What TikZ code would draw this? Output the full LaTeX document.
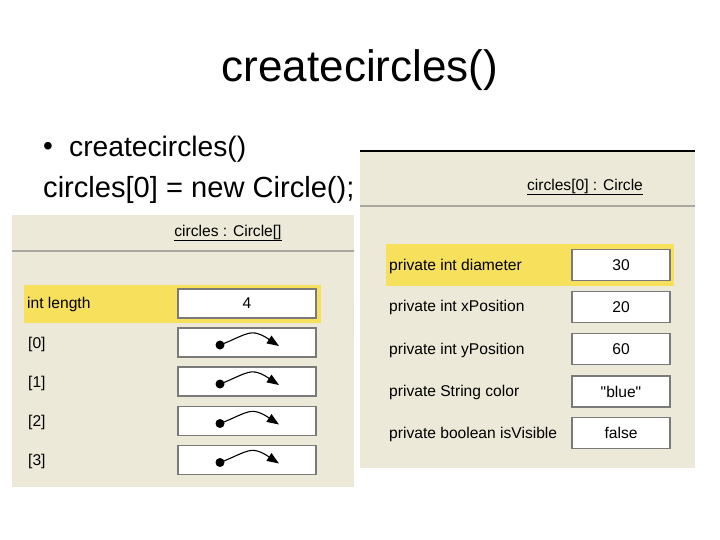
\documentclass[tikz,border=0pt]{standalone}
\usepackage{fontspec}
\setmainfont{Liberation Sans}[Ligatures=TeXOff]
\usetikzlibrary{arrows.meta}
\definecolor{panelbg}{HTML}{ECE9D8}
\definecolor{hilite}{HTML}{F6E05C}
\definecolor{boxline}{HTML}{7A7A7A}
\definecolor{sepline}{HTML}{A8A8A0}
\tikzset{
  panelfill/.style={fill=panelbg, draw=none},
  hirow/.style={fill=hilite, draw=none},
  smalltext/.style={font=\fontsize{15.6}{15.6}\selectfont, inner sep=0pt},
  lbl/.style={smalltext, anchor=west},
  valbox/.style={draw=boxline, line width=1.3pt, fill=white, inner sep=0pt, font=\fontsize{15.6}{15.6}\selectfont},
  lbox/.style={valbox, minimum width=138pt, minimum height=29pt},
  rbox/.style={valbox, minimum width=98pt, minimum height=31pt},
  refglyph/.pic={
    \fill (-27,2.5) circle [radius=4.5pt];
    \draw[line width=1.1pt, -{Triangle[length=12pt,width=9pt]}]
      (-27,2.5) .. controls (-12,-3) and (0,-11) .. (8,-9.5)
      .. controls (16,-8) and (22,-3) .. (32,3.5);
  }
}
\begin{document}
\begin{tikzpicture}[x=1pt,y=-1pt]
\useasboundingbox (0,0) rectangle (720,540);
% heading texts
\node[inner sep=0pt, font=\fontsize{44}{44}\selectfont] (title) at (360,70) {createcircles()};
\node[inner sep=0pt, font=\fontsize{28}{28}\selectfont] (bullet) at (48,149) {•};
\node[inner sep=0pt, anchor=west, font=\fontsize{28.2}{28.2}\selectfont] (bl1) at (69,149) {createcircles()};
\node[inner sep=0pt, anchor=west, font=\fontsize{29.1}{29.1}\selectfont] (bl2) at (43,190) {circles[0] = new Circle();};

% left panel
\fill[panelfill] (12,215) rectangle (354,487);
\draw[sepline, line width=2pt] (12,251) -- (354,251);
\draw[white!80!gray, line width=1pt] (353,298) -- (353,343);
\node[smalltext] (ltitle) at (228,233) {\underline{circles : Circle[]}};
\fill[hirow] (24,285) rectangle (321,323);
\node[lbl] (llen) at (27,304) {int length};
\node[lbox] (vlen) at (247,303.5) {4};
\node[lbl] (l0) at (28,344) {[0]};
\node[lbox] (v0) at (247,342.5) {};
\node[lbl] (l1) at (28,383) {[1]};
\node[lbox] (v1) at (247,381.5) {};
\node[lbl] (l2) at (28,422) {[2]};
\node[lbox] (v2) at (247,421) {};
\node[lbl] (l3) at (28,461) {[3]};
\node[lbox] (v3) at (247,460) {};
\pic at (v0.center) {refglyph};
\pic at (v1.center) {refglyph};
\pic at (v2.center) {refglyph};
\pic at (v3.center) {refglyph};

% right panel
\fill[panelfill] (360,151) rectangle (695,468);
\draw[black, line width=1.2pt] (360,151) -- (695,151);
\draw[sepline, line width=2pt] (360,206) -- (695,206);
\node[smalltext] (rtitle) at (585,187) {\underline{circles[0] : Circle}};
\fill[hirow] (386,244) rectangle (674,286);
\node[lbl] (rdia) at (389,266) {private int diameter};
\node[rbox] (vdia) at (621,265) {30};
\node[lbl] (rx) at (389,307) {private int xPosition};
\node[rbox] (vx) at (621,307) {20};
\node[lbl] (ry) at (389,350) {private int yPosition};
\node[rbox] (vy) at (621,349) {60};
\node[lbl] (rc) at (389,392) {private String color};
\node[rbox] (vc) at (621,391.5) {"blue"};
\node[lbl] (rv) at (389,434) {private boolean isVisible};
\node[rbox] (vv) at (621,433) {false};
\end{tikzpicture}
\end{document}
